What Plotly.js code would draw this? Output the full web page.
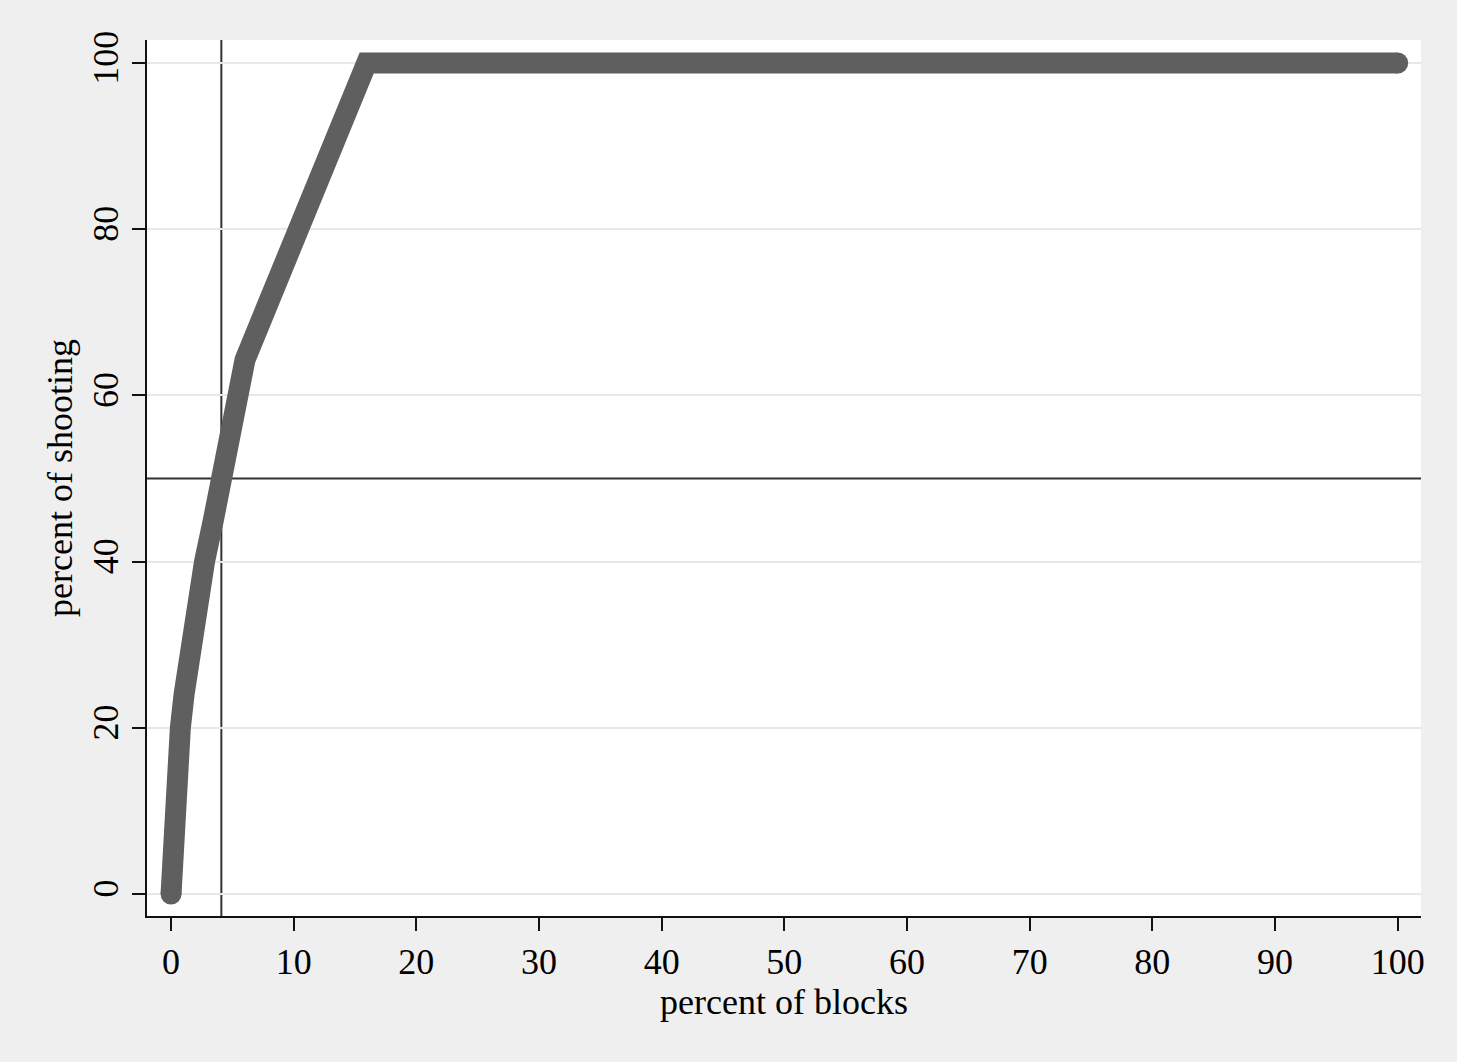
<!DOCTYPE html>
<html>
<head>
<meta charset="utf-8">
<script src="https://cdn.plot.ly/plotly-3.0.1.min.js"></script>
<style>html,body{margin:0;padding:0;background:#efefef;}#chart{width:1457px;height:1062px;}</style>
</head>
<body>
<div id="chart"></div>
<script>
// percent of blocks (x) vs cumulative percent of shooting (y)
const pctBlocks   = [0, 0.1, 0.29, 0.56, 0.76, 1.06, 1.57, 2.23, 2.73, 3.45, 4.2, 5.45, 6.03, 15.95, 100];
const pctShooting = [0, 4, 10, 16, 20, 24, 30, 36, 40, 45, 50, 60, 64.3, 100, 100];
const refX = 4.1;   // vertical reference line
const refY = 50;    // horizontal reference line
const xTicks = [0, 10, 20, 30, 40, 50, 60, 70, 80, 90, 100];
const yTicks = [0, 20, 40, 60, 80, 100];

const lineColor = '#5f5f5f';
const font = 'Liberation Serif, Times New Roman, serif';
const fs = 36;

const traces = [
  {x: pctBlocks, y: pctShooting, mode: 'lines', type: 'scatter',
   line: {color: lineColor, width: 21, shape: 'linear'}, hoverinfo: 'x+y'},
  {x: [pctBlocks[0], pctBlocks[pctBlocks.length-1]],
   y: [pctShooting[0], pctShooting[pctShooting.length-1]],
   mode: 'markers', type: 'scatter',
   marker: {color: lineColor, size: 21, line: {width: 0}}, hoverinfo: 'skip'}
];

const layout = {
  width: 1457, height: 1062,
  paper_bgcolor: '#efefef', plot_bgcolor: '#ffffff',
  showlegend: false,
  margin: {l: 147, r: 36, t: 40, b: 146},
  font: {family: font, color: '#000', size: fs},
  xaxis: {
    range: [-1.96, 101.9], tickvals: xTicks, ticktext: xTicks.map(String),
    showgrid: false, zeroline: false,
    showline: true, linecolor: '#111', linewidth: 2,
    ticks: 'outside', ticklen: 13, tickwidth: 2, tickcolor: '#111',
    tickfont: {family: font, size: fs, color: '#000'},
    title: {text: 'percent of blocks', font: {family: font, size: fs, color: '#000'}, standoff: 0}
  },
  yaxis: {
    range: [-2.65, 102.77], tickvals: yTicks, ticktext: yTicks.map(String),
    tickangle: -90,
    showgrid: true, gridcolor: '#e8e8e8', gridwidth: 2, zeroline: false,
    showline: true, linecolor: '#111', linewidth: 2,
    ticks: 'outside', ticklen: 13, tickwidth: 2, tickcolor: '#111',
    tickfont: {family: font, size: fs, color: '#000'},
    title: {text: 'percent of shooting', font: {family: font, size: fs, color: '#000'}, standoff: 2}
  },
  shapes: [
    {type: 'line', xref: 'x', yref: 'paper', x0: refX, x1: refX, y0: 0, y1: 1,
     line: {color: '#333', width: 2}, layer: 'below'},
    {type: 'line', xref: 'paper', yref: 'y', x0: 0, x1: 1, y0: refY, y1: refY,
     line: {color: '#333', width: 2}, layer: 'below'}
  ]
};

Plotly.newPlot('chart', traces, layout, {displayModeBar: false, staticPlot: true});
</script>
</body>
</html>
